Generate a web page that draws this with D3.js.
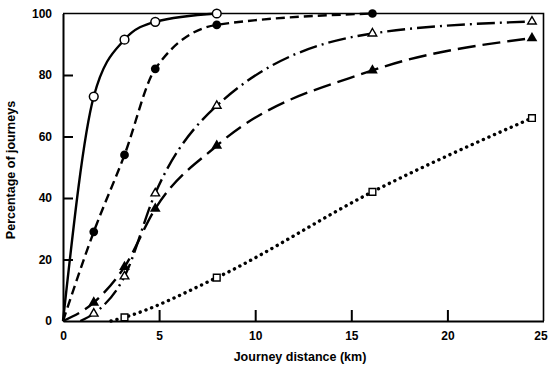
<!DOCTYPE html>
<html>
<head>
<meta charset="utf-8">
<script src="https://d3js.org/d3.v7.min.js"></script>
<style>
  body { margin: 0; background: #fff; }
  svg { display: block; }
  .axis text { font-family: "Liberation Sans", Arial, sans-serif; font-size: 12px; font-weight: bold; fill: #000; }
  .axis path, .axis line { stroke: #000; stroke-width: 2; }
  .title { font-family: "Liberation Sans", Arial, sans-serif; font-size: 12.5px; font-weight: bold; fill: #000; }
</style>
</head>
<body>
<script>
// distances (km), one list per curve
var distA = [0, 1.6, 3.2, 4.8, 8.0];
var pctA  = [0, 73, 91.5, 97.3, 100];

var distB = [0, 1.6, 3.2, 4.8, 8.0, 16.1];
var pctB  = [0, 29, 54, 82, 96.3, 100];

var distC = [0.9, 1.6, 3.2, 4.8, 8.0, 16.1, 24.4];
var pctC  = [0, 2.4, 14.5, 41.5, 70, 93.5, 97.4];

var distD = [0, 1.6, 3.2, 4.8, 8.0, 16.1, 24.4];
var pctD  = [0, 6, 17.6, 36.5, 57, 81.5, 92];

var distE = [2.5, 3.2, 8.0, 16.1, 24.4];
var pctE  = [0, 1.2, 14.1, 42, 66];

var xTicks = [0, 5, 10, 15, 20, 25];
var yTicks = [0, 20, 40, 60, 80, 100];

(function(){
  // first point of each curve is just where the line starts, no marker
  var markedFrom = 1;

  var W = 549, H = 368;
  var m = { left: 63, right: 543.5, top: 13.5, bottom: 321 };

  var svg = d3.select("body").append("svg")
    .attr("width", W).attr("height", H);

  var x = d3.scaleLinear().domain([0, 25]).range([m.left, m.right]);
  var y = d3.scaleLinear().domain([0, 100]).range([m.bottom, m.top]);

  // frame: top and right edges are thinner than the axes
  svg.append("path")
    .attr("d", "M" + m.left + "," + m.top + "H" + m.right + "V" + m.bottom)
    .attr("fill", "none").attr("stroke", "#000").attr("stroke-width", 1.6);

  // axes with inward ticks
  svg.append("g").attr("class", "axis")
    .attr("transform", "translate(0," + m.bottom + ")")
    .call(d3.axisBottom(x).tickValues(xTicks).tickSize(-11).tickSizeOuter(0).tickPadding(10))
    .call(function(g){
      g.selectAll(".tick line").filter(function(d){ return d === 0 || d === 25; }).remove();
      // last label sits against the page edge, pull it in a little
      g.selectAll(".tick text").filter(function(d){ return d === 25; }).attr("x", -3);
    });

  svg.append("g").attr("class", "axis")
    .attr("transform", "translate(" + m.left + ",0)")
    .call(d3.axisLeft(y).tickValues(yTicks).tickSize(-10).tickSizeOuter(0).tickPadding(11))
    .call(function(g){
      g.selectAll(".tick line").filter(function(d){ return d === 0 || d === 100; }).remove();
    });

  // axis titles
  svg.append("text").attr("class", "title")
    .attr("x", 300).attr("y", 361)
    .attr("text-anchor", "middle")
    .text("Journey distance (km)");

  svg.append("text").attr("class", "title")
    .attr("transform", "translate(15,170) rotate(-90)")
    .attr("text-anchor", "middle")
    .text("Percentage of journeys");

  var line = d3.line()
    .x(function(d){ return x(d[0]); })
    .y(function(d){ return y(d[1]); })
    .curve(d3.curveMonotoneX);

  var series = [
    { dist: distE, pct: pctE, dash: "0.1,6", width: 3.4, cap: "round", marker: "square" },
    { dist: distD, pct: pctD, dash: "18,7", width: 2.4, cap: "butt", marker: "triFilled" },
    { dist: distC, pct: pctC, dash: "18,5,2,5", width: 2.4, cap: "butt", marker: "triOpen" },
    { dist: distB, pct: pctB, dash: "9,5", width: 2.4, cap: "butt", marker: "dotFilled" },
    { dist: distA, pct: pctA, dash: null, width: 2.4, cap: "butt", marker: "dotOpen" }
  ];

  series.forEach(function(s){
    var pts = s.dist.map(function(d, i){ return [d, s.pct[i]]; });
    svg.append("path")
      .datum(pts)
      .attr("d", line)
      .attr("fill", "none")
      .attr("stroke", "#000")
      .attr("stroke-width", s.width)
      .attr("stroke-linecap", s.cap)
      .attr("stroke-dasharray", s.dash);

    var marks = svg.append("g").selectAll("path")
      .data(pts.slice(markedFrom))
      .enter().append("path")
      .attr("transform", function(d){ return "translate(" + x(d[0]) + "," + y(d[1]) + ")"; });

    if (s.marker === "dotOpen") {
      marks.attr("d", d3.symbol(d3.symbolCircle, 60)).attr("fill", "#fff").attr("stroke", "#000").attr("stroke-width", 1.5);
    } else if (s.marker === "dotFilled") {
      marks.attr("d", d3.symbol(d3.symbolCircle, 60)).attr("fill", "#000");
    } else if (s.marker === "triOpen") {
      marks.attr("d", d3.symbol(d3.symbolTriangle, 32)).attr("fill", "#fff").attr("stroke", "#000").attr("stroke-width", 1.4);
    } else if (s.marker === "triFilled") {
      marks.attr("d", d3.symbol(d3.symbolTriangle, 50)).attr("fill", "#000");
    } else {
      marks.attr("d", d3.symbol(d3.symbolSquare, 45)).attr("fill", "#fff").attr("stroke", "#000").attr("stroke-width", 1.4);
    }
  });
})();
</script>
</body>
</html>
